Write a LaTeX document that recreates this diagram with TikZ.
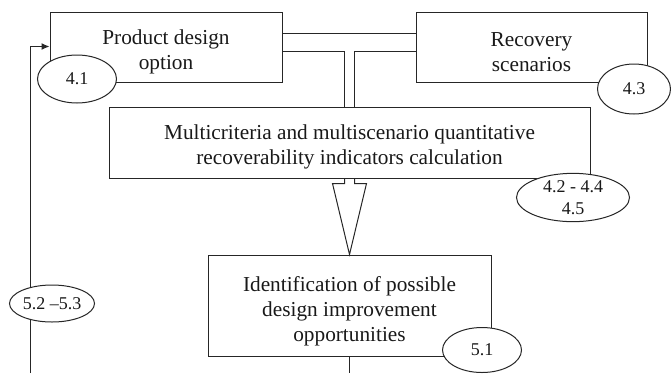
\documentclass[tikz,border=0pt]{standalone}
\usepackage{fontspec}
\setmainfont{Liberation Serif}
\usetikzlibrary{shapes.geometric,arrows.meta,calc}
\newcommand{\toppad}[1]{\rule{0pt}{#1}}
\begin{document}
\begin{tikzpicture}[x=1pt,y=-1pt,
  line width=1pt, draw=black!85,
  box/.style={draw=black!85, rectangle, inner sep=0pt, align=center,
    font=\fontsize{21.3}{25}\selectfont, text=black!90},
  tag/.style={draw=black!85, ellipse, fill=white, inner sep=0pt, align=center,
    font=\fontsize{18}{22}\selectfont, text=black!90}]
\clip (0,0) rectangle (671,373);
\node[box, minimum width=232pt, minimum height=70pt] (prod) at (166,47) {\toppad{25pt}Product design\\option};
\node[box, minimum width=231pt, minimum height=70pt] (rec) at (531.5,47) {\toppad{24pt}Recovery\\scenarios};
\node[box, minimum width=481pt, minimum height=71pt] (multi) at (349.5,142.5) {\toppad{23pt}Multicriteria and multiscenario quantitative\\recoverability indicators calculation};
\node[box, minimum width=283pt, minimum height=101pt] (ident) at (349.5,305.5) {\toppad{26pt}Identification of possible\\design improvement\\opportunities};
\coordinate (fb) at (30,373);
\coordinate (bot) at (349.5,373);
% pipes between top boxes and calculation box
\draw ([yshift=-22pt]prod.north east) -- ([yshift=-22pt]rec.north west);
\draw ([yshift=-40pt]prod.north east) -| ([xshift=-5pt]multi.north);
\draw ([yshift=-40pt]rec.north west) -| ([xshift=5pt]multi.north);
% hollow arrow
\coordinate (ah) at ([yshift=-5pt]multi.south);
\draw[line join=miter] ([xshift=-5pt]multi.south) -- ([xshift=-5pt]ah) -- ([xshift=-17pt]ah) -- (ident.north) -- ([xshift=17pt]ah) -- ([xshift=5pt]ah) -- ([xshift=5pt]multi.south);
% bottom and feedback lines
\draw (ident.south) -- (bot);
\draw[-{Latex[length=8pt,width=7pt]}] (fb) |- ([yshift=-35pt]prod.north west);
% tags
\node[tag, minimum width=79pt, minimum height=48pt] (t41) at (77,79) {4.1};
\node[tag, minimum width=73pt, minimum height=50pt] (t43) at (634,89) {4.3};
\node[tag, minimum width=113pt, minimum height=45pt] (t42) at (573,197.5) {4.2 - 4.4\\4.5};
\node[tag, minimum width=79pt, minimum height=45pt] (t51) at (482,350) {5.1};
\node[tag, minimum width=85pt, minimum height=37pt] (t52) at (52,303.5) {5.2 --5.3};
\end{tikzpicture}
\end{document}
